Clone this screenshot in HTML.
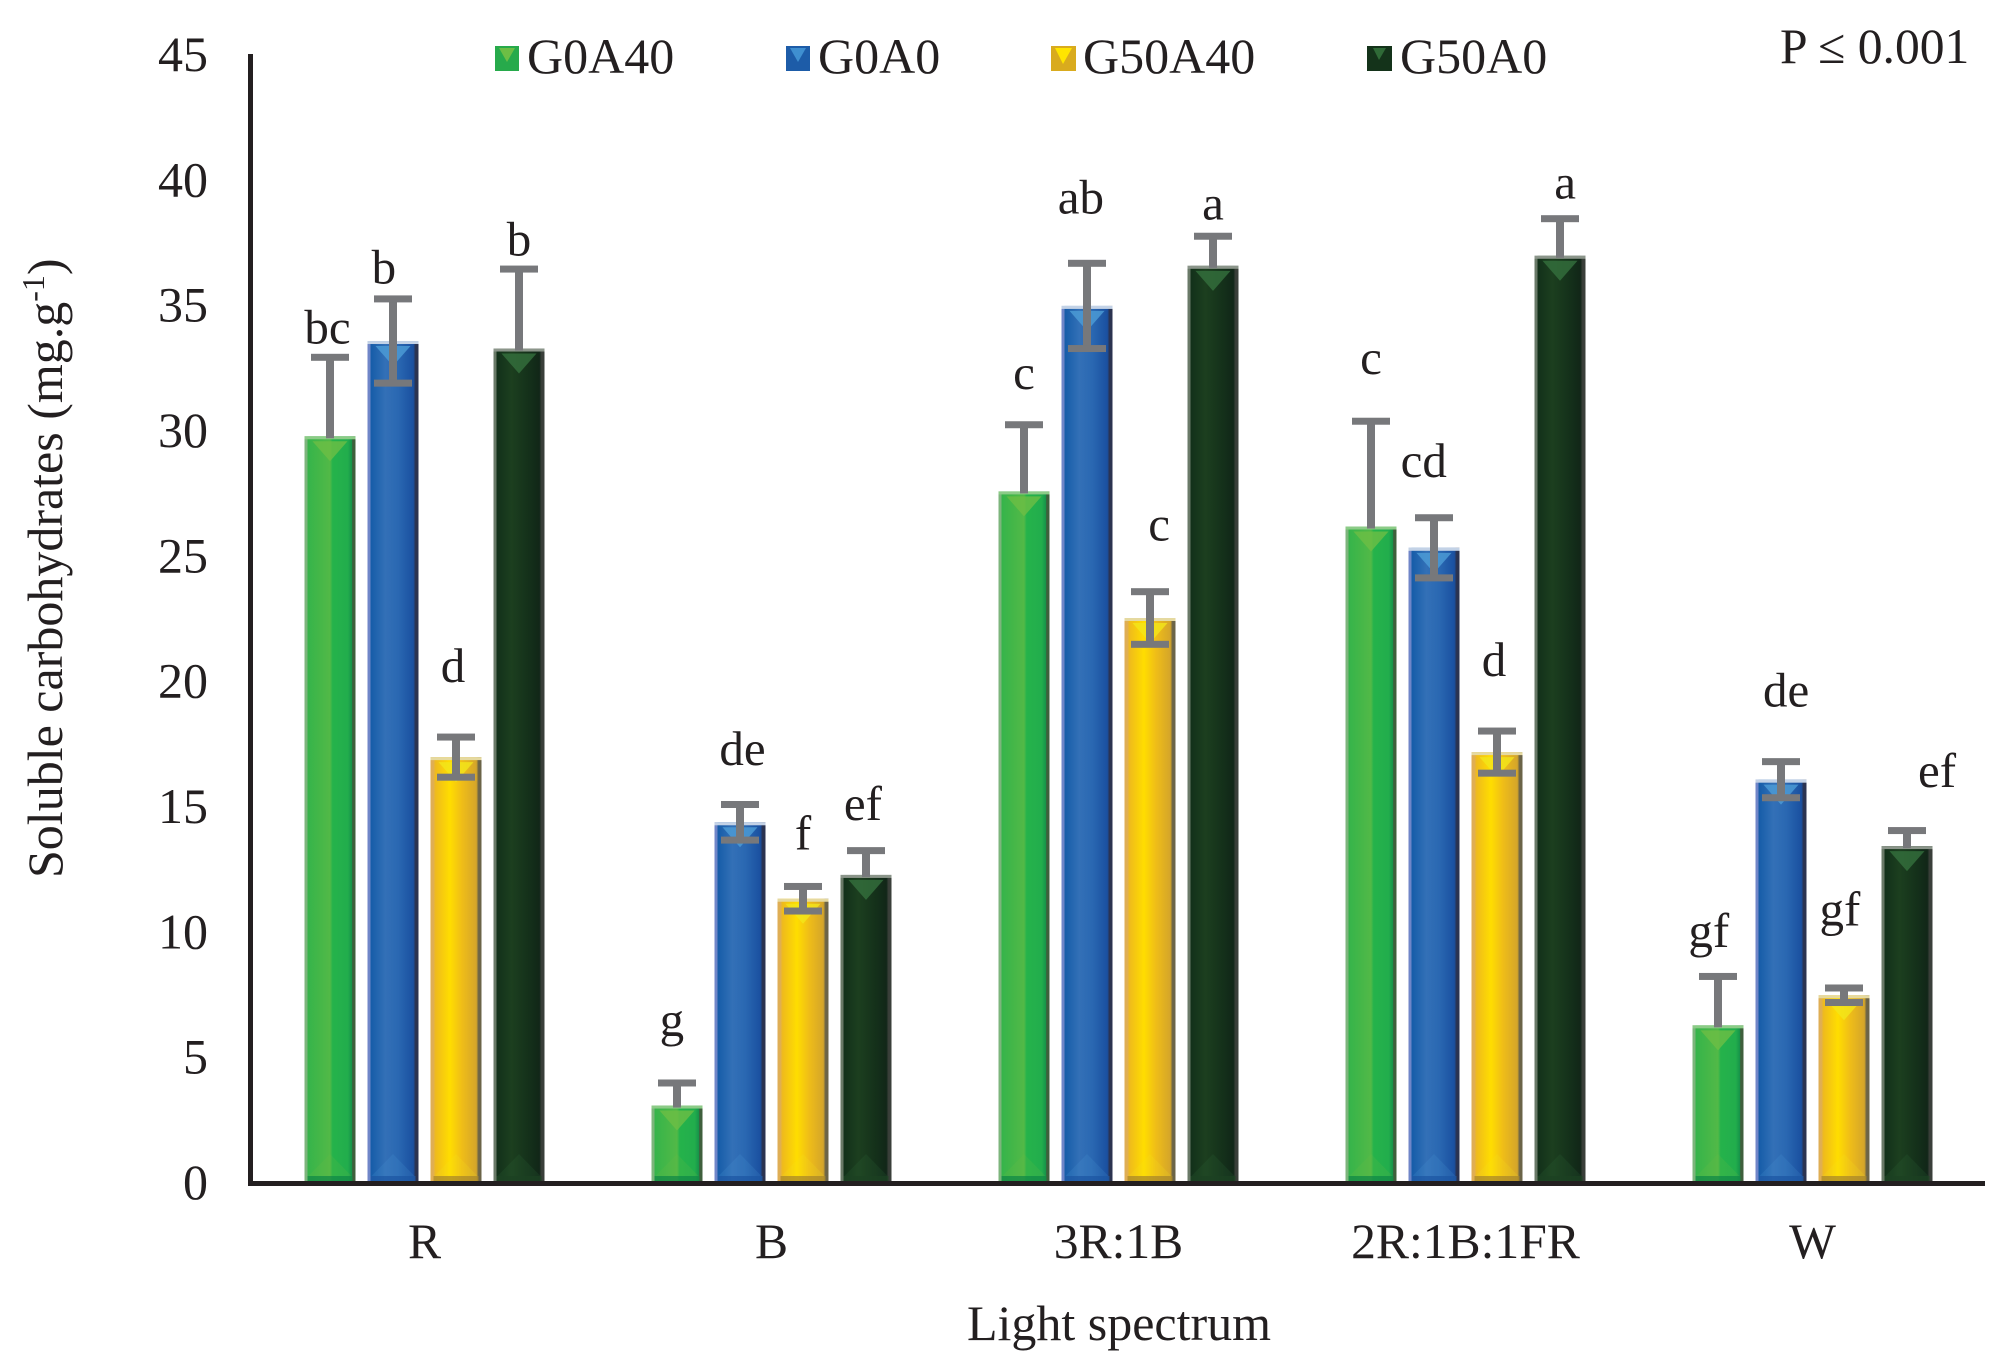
<!DOCTYPE html>
<html lang="en">
<head>
<meta charset="utf-8">
<title>Soluble carbohydrates by light spectrum</title>
<style>
  html, body { margin: 0; padding: 0; background: #fff; }
  body { width: 2010px; height: 1364px; overflow: hidden; }
  svg { display: block; font-family: "Liberation Serif", serif; fill: #231f20; }
</style>
</head>
<body>
<svg id="chart" xmlns="http://www.w3.org/2000/svg" width="2010" height="1364" viewBox="0 0 2010 1364">
  <defs>
    <linearGradient id="grad-green" x1="0" x2="1" y1="0" y2="0">
      <stop offset="0" stop-color="#7db57c"/><stop offset="0.055" stop-color="#7db57c"/>
      <stop offset="0.06" stop-color="#35b44a"/><stop offset="0.5" stop-color="#52b947"/>
      <stop offset="0.55" stop-color="#25b34b"/><stop offset="0.85" stop-color="#22ad4c"/>
      <stop offset="0.93" stop-color="#16924a"/><stop offset="0.94" stop-color="#3f5f3c"/><stop offset="1" stop-color="#3f5f3c"/>
    </linearGradient>
    <linearGradient id="grad-blue" x1="0" x2="1" y1="0" y2="0">
      <stop offset="0" stop-color="#7086c8"/><stop offset="0.055" stop-color="#7086c8"/>
      <stop offset="0.06" stop-color="#155ca8"/><stop offset="0.35" stop-color="#3370b7"/>
      <stop offset="0.6" stop-color="#2a68b2"/><stop offset="0.9" stop-color="#1a50a0"/>
      <stop offset="0.94" stop-color="#2b3350"/><stop offset="1" stop-color="#2b3350"/>
    </linearGradient>
    <linearGradient id="grad-yellow" x1="0" x2="1" y1="0" y2="0">
      <stop offset="0" stop-color="#dfae55"/><stop offset="0.055" stop-color="#dfae55"/>
      <stop offset="0.1" stop-color="#efbb1c"/><stop offset="0.38" stop-color="#ffdd00"/>
      <stop offset="0.62" stop-color="#efbd18"/><stop offset="0.9" stop-color="#d4a52a"/>
      <stop offset="0.94" stop-color="#6b6448"/><stop offset="1" stop-color="#6b6448"/>
    </linearGradient>
    <linearGradient id="grad-dark" x1="0" x2="1" y1="0" y2="0">
      <stop offset="0" stop-color="#6a7a68"/><stop offset="0.055" stop-color="#6a7a68"/>
      <stop offset="0.06" stop-color="#12301a"/><stop offset="0.35" stop-color="#1c3f1f"/>
      <stop offset="0.7" stop-color="#14301a"/><stop offset="0.9" stop-color="#112618"/>
      <stop offset="0.94" stop-color="#3a3f3a"/><stop offset="1" stop-color="#3a3f3a"/>
    </linearGradient>
  </defs>

  <g id="bars"></g>
  <g id="errors"></g>
  <g id="letters" font-size="49" text-anchor="middle"></g>

  <rect x="248" y="54" width="5" height="1132" fill="#231f20"/>
  <rect x="248" y="1181" width="1737" height="5" fill="#231f20"/>
  <g id="y-ticks" font-size="50" text-anchor="end"></g>
  <g id="x-ticks" font-size="49.6" text-anchor="middle"></g>

  <text transform="translate(62,878) rotate(-90)" font-size="50">Soluble carbohydrates (mg.g<tspan font-size="32" dy="-18">-1</tspan><tspan dy="18">)</tspan></text>
  <text x="1119" y="1340" font-size="50" text-anchor="middle">Light spectrum</text>

  <g font-size="50">
    <g>
      <rect x="495" y="46" width="24" height="25" fill="#27aa4b"/>
      <polygon points="499,48 515,48 507,62" fill="#6dbe45"/>
      <text x="527" y="73">G0A40</text>
    </g>
    <g>
      <rect x="786" y="46" width="24" height="25" fill="#1d5ca8"/>
      <polygon points="790,48 806,48 798,62" fill="#3f8fd0"/>
      <text x="818" y="73">G0A0</text>
    </g>
    <g>
      <rect x="1051" y="46" width="25" height="25" fill="#d9ab1e"/>
      <polygon points="1055,48 1072,48 1063,64" fill="#ffe500"/>
      <text x="1083" y="73">G50A40</text>
    </g>
    <g>
      <rect x="1367" y="46" width="25" height="25" fill="#14331a"/>
      <polygon points="1373,48 1386,48 1379,60" fill="#2f6a37"/>
      <text x="1400" y="73">G50A0</text>
    </g>
  </g>
  <text x="1780" y="63" font-size="49.6">P ≤ 0.001</text>
</svg>

<script>
const categories = ["R", "B", "3R:1B", "2R:1B:1FR", "W"];
const seriesNames = ["G0A40", "G0A0", "G50A40", "G50A0"];
const yTickLabels = ["0", "5", "10", "15", "20", "25", "30", "35", "40", "45"];

const valuesG0A40  = [29.75, 3.05, 27.55, 26.15, 6.25];
const valuesG0A0   = [33.55, 14.35, 34.95, 25.3, 16.05];
const valuesG50A40 = [16.95, 11.3, 22.5, 17.15, 7.45];
const valuesG50A0  = [33.25, 12.25, 36.55, 36.95, 13.4];

const errorsG0A40  = [3.15, 0.9, 2.66, 4.2, 1.95];
const errorsG0A0   = [1.68, 0.71, 1.7, 1.2, 0.72];
const errorsG50A40 = [0.8, 0.49, 1.05, 0.84, 0.29];
const errorsG50A0  = [3.17, 0.97, 1.18, 1.48, 0.62];

const lettersG0A40  = ["bc", "g", "c", "c", "gf"];
const lettersG0A0   = ["b", "de", "ab", "cd", "de"];
const lettersG50A40 = ["d", "f", "c", "d", "gf"];
const lettersG50A0  = ["b", "ef", "a", "a", "ef"];

/* height of each significance letter above its error cap, in y-axis units */
const liftG0A40  = [1.07, 2.4, 1.94, 2.4, 1.69];
const liftG0A0   = [1.13, 2.1, 2.5, 2.15, 2.71];
const liftG50A40 = [2.71, 2.0, 2.56, 2.71, 3.02];
const liftG50A0  = [1.07, 1.74, 1.18, 1.33, 2.25];

/* sideways drift of each significance letter from its bar, as a fraction of bar width */
const driftG0A40  = [-0.05, -0.1, 0, 0, -0.18];
const driftG0A0   = [-0.18, 0.05, -0.12, -0.2, 0.1];
const driftG50A40 = [-0.06, 0, 0.18, -0.06, -0.08];
const driftG50A0  = [0, -0.06, 0, 0.1, 0.59];

const NS = "http://www.w3.org/2000/svg";
const Y_ZERO = 1182;
const Y_UNIT = 1128 / 45;
const BAND_START = 251;
const BAND_WIDTH = 347;
const BAR_WIDTH = 51;
const BAR_STEP = 63;
const CAP_WIDTH = 38;
const CAP_HEIGHT = 7;
const ERR_WIDTH = 8;
const ERR_COLOR = "#77787b";

function yScale(v) { return Y_ZERO - v * Y_UNIT; }
function bandCenter(i) { return BAND_START + BAND_WIDTH * (i + 0.5); }
function barLeft(i, s) { return bandCenter(i) - (BAR_STEP * 3 + BAR_WIDTH) / 2 + s * BAR_STEP; }

function make(tag, attrs) {
  const el = document.createElementNS(NS, tag);
  for (const k in attrs) el.setAttribute(k, attrs[k]);
  return el;
}

const seriesList = [
  { key: "g0a40",  values: valuesG0A40,  errors: errorsG0A40,  letters: lettersG0A40,  lift: liftG0A40,  drift: driftG0A40,  fill: "url(#grad-green)",  top: "#8ccb87", tri: "#6dbe45", low: "#138a45", below: false },
  { key: "g0a0",   values: valuesG0A0,   errors: errorsG0A0,   letters: lettersG0A0,   lift: liftG0A0,   drift: driftG0A0,   fill: "url(#grad-blue)",   top: "#c3d2e6", tri: "#4d9dd7", low: "#1f5aa6", below: true },
  { key: "g50a40", values: valuesG50A40, errors: errorsG50A40, letters: lettersG50A40, lift: liftG50A40, drift: driftG50A40, fill: "url(#grad-yellow)", top: "#e5d9a0", tri: "#f3e61a", low: "#a9892a", below: true },
  { key: "g50a0",  values: valuesG50A0,  errors: errorsG50A0,  letters: lettersG50A0,  lift: liftG50A0,  drift: driftG50A0,  fill: "url(#grad-dark)",   top: "#8b958a", tri: "#34703d", low: "#1d4424", below: false }
];

const gBars = document.getElementById("bars");
const gErrors = document.getElementById("errors");
const gLetters = document.getElementById("letters");
const gY = document.getElementById("y-ticks");
const gX = document.getElementById("x-ticks");

yTickLabels.forEach(function (label) {
  const t = make("text", { x: 208, y: yScale(Number(label)) + 17 });
  
  
  t.textContent = label;
  gY.appendChild(t);
});

categories.forEach(function (label, i) {
  const t = make("text", { x: bandCenter(i), y: 1258 });
  
  
  t.textContent = label;
  gX.appendChild(t);
});

seriesList.forEach(function (series, s) {
  categories.forEach(function (cat, i) {
    const v = series.values[i];
    const e = series.errors[i];
    const x = barLeft(i, s);
    const cx = x + BAR_WIDTH / 2;
    const yTop = yScale(v);
    const h = Y_ZERO - yTop;

    const g = make("g", {});
    
    

    const bar = make("rect", { x: x, y: yTop, width: BAR_WIDTH, height: h, fill: series.fill });
    
    
    g.appendChild(bar);

    const tri = make("polygon", {
      points: (x + 8) + "," + (yTop + 5) + " " + (x + BAR_WIDTH - 8) + "," + (yTop + 5) + " " + cx + "," + (yTop + 25),
      fill: series.tri,
      "fill-opacity": 0.8
    });
    
    
    g.appendChild(tri);

    const top = make("rect", { x: x, y: yTop, width: BAR_WIDTH, height: 3, fill: series.top });
    
    
    g.appendChild(top);

    const bevel = make("polygon", {
      points: (x + 4) + "," + (Y_ZERO - 6) + " " + (x + BAR_WIDTH - 4) + "," + (Y_ZERO - 6) + " " + cx + "," + (Y_ZERO - 28),
      fill: series.tri,
      "fill-opacity": 0.18
    });
    
    
    g.appendChild(bevel);

    const low = make("rect", { x: x + 3, y: Y_ZERO - 6, width: BAR_WIDTH - 6, height: 5, fill: series.low, opacity: 0.75 });
    
    
    g.appendChild(low);

    gBars.appendChild(g);

    const yCap = yScale(v + e);
    const yEnd = series.below ? yScale(v - e) : yTop + 2;
    const stem = make("rect", { x: cx - ERR_WIDTH / 2, y: yCap, width: ERR_WIDTH, height: yEnd - yCap, fill: ERR_COLOR });
    
    
    gErrors.appendChild(stem);

    const capTop = make("rect", { x: cx - CAP_WIDTH / 2, y: yCap - CAP_HEIGHT / 2, width: CAP_WIDTH, height: CAP_HEIGHT, fill: ERR_COLOR });
    
    
    gErrors.appendChild(capTop);

    if (series.below) {
      const capLow = make("rect", { x: cx - CAP_WIDTH / 2, y: yEnd - CAP_HEIGHT / 2, width: CAP_WIDTH, height: CAP_HEIGHT, fill: ERR_COLOR });
      
      
      gErrors.appendChild(capLow);
    }

    const label = make("text", { x: cx + series.drift[i] * BAR_WIDTH, y: yScale(v + e + series.lift[i]) + 13 });
    
    
    label.textContent = series.letters[i];
    gLetters.appendChild(label);
  });
});
</script>
</body>
</html>
